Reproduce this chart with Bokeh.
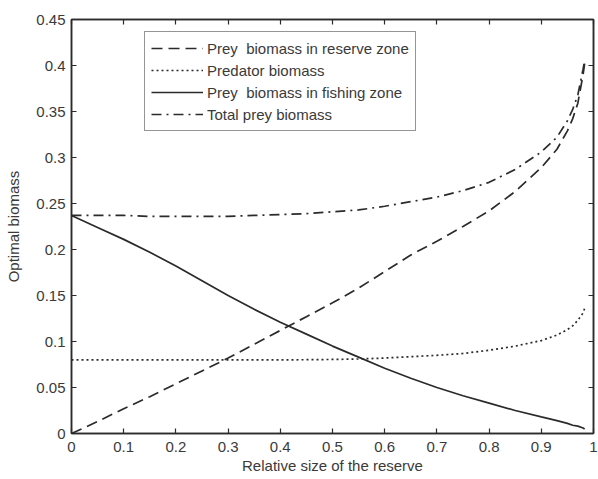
from bokeh.plotting import figure
from bokeh.models import (LinearAxis, FixedTicker, Range1d, Legend, LegendItem,
                          CustomLabelingPolicy)
from bokeh.embed import file_html
from bokeh.resources import INLINE

# Relative size of the reserve (shared abscissa for all curves)
reserve_size = [0.0, 0.05, 0.1, 0.15, 0.2, 0.25, 0.3, 0.35, 0.4, 0.45, 0.5,
                0.55, 0.6, 0.65, 0.7, 0.75, 0.8, 0.85, 0.9, 0.93, 0.95,
                0.96, 0.97, 0.98, 0.983]

prey_reserve = [0.0, 0.013, 0.027, 0.040, 0.054, 0.068, 0.082, 0.097, 0.112,
                0.127, 0.142, 0.158, 0.176, 0.194, 0.209, 0.225, 0.242, 0.263,
                0.289, 0.309, 0.329, 0.342, 0.359, 0.390, 0.402]

predator = [0.080, 0.080, 0.080, 0.080, 0.080, 0.080, 0.080, 0.080, 0.080,
            0.0802, 0.0805, 0.081, 0.082, 0.0835, 0.085, 0.087, 0.0905, 0.095,
            0.101, 0.107, 0.113, 0.117, 0.123, 0.131, 0.136]

prey_fishing = [0.237, 0.224, 0.211, 0.197, 0.182, 0.166, 0.150, 0.135, 0.121,
                0.108, 0.095, 0.083, 0.071, 0.060, 0.050, 0.041, 0.033, 0.025,
                0.018, 0.014, 0.011, 0.009, 0.008, 0.006, 0.005]

total_prey = [0.237, 0.237, 0.237, 0.236, 0.236, 0.236, 0.236, 0.237, 0.238,
              0.239, 0.241, 0.243, 0.247, 0.252, 0.257, 0.264, 0.273, 0.287,
              0.306, 0.322, 0.340, 0.352, 0.368, 0.396, 0.405]

x_ticks = [0, 0.1, 0.2, 0.3, 0.4, 0.5, 0.6, 0.7, 0.8, 0.9, 1]
x_tick_labels = ["0", "0.1", "0.2", "0.3", "0.4", "0.5", "0.6", "0.7", "0.8", "0.9", "1"]
y_ticks = [0, 0.05, 0.1, 0.15, 0.2, 0.25, 0.3, 0.35, 0.4, 0.45]
y_tick_labels = ["0", "0.05", "0.1", "0.15", "0.2", "0.25", "0.3", "0.35", "0.4", "0.45"]

FONT = "Liberation Sans"
FONT_SIZE = "15px"
INK = "#2b2b2b"
TEXT = "#3a3a3a"

p = figure(width=598, height=479, output_backend="svg", toolbar_location=None,
           x_range=Range1d(0, 1), y_range=Range1d(0, 0.45),
           min_border_left=71, min_border_right=1, min_border_top=19,
           min_border_bottom=46, background_fill_color="white",
           border_fill_color="white")
p.grid.visible = False
p.outline_line_color = INK
p.outline_line_width = 1.5

# main axes: inward ticks, no minor ticks
for ax, ticks, labels in ((p.xaxis[0], x_ticks, x_tick_labels),
                          (p.yaxis[0], y_ticks, y_tick_labels)):
    ax.ticker = FixedTicker(ticks=ticks)
    ax.major_label_overrides = {t: l for t, l in zip(ticks, labels)}
    ax.major_tick_in = 5
    ax.major_tick_out = 0
    ax.minor_tick_line_color = None
    ax.axis_line_color = INK
    ax.axis_line_width = 1.5
    ax.major_tick_line_color = INK
    ax.major_tick_line_width = 1.2
    ax.major_label_text_font = FONT
    ax.major_label_text_font_size = FONT_SIZE
    ax.major_label_text_color = TEXT
    ax.axis_label_text_font = FONT
    ax.axis_label_text_font_size = FONT_SIZE
    ax.axis_label_text_font_style = "normal"
    ax.axis_label_text_color = TEXT

p.xaxis.axis_label = "Relative size of the reserve"
p.xaxis.major_label_standoff = 8
p.xaxis.axis_label_standoff = 2
p.yaxis.axis_label = "Optimal biomass"
p.yaxis.major_label_standoff = 6
p.yaxis.axis_label_standoff = 11

# box axes on top and right carry only ticks; their labels are filtered out
hide_all = CustomLabelingPolicy(code="""
    for (const i of indices) indices.unset(i)
    return indices
""")
for loc, ticks in (("above", x_ticks), ("right", y_ticks)):
    ax = LinearAxis(ticker=FixedTicker(ticks=ticks), major_label_policy=hide_all)
    ax.major_label_text_font_size = "1px"
    ax.major_label_standoff = 0
    ax.major_tick_in = 5
    ax.major_tick_out = 0
    ax.minor_tick_line_color = None
    ax.axis_line_color = INK
    ax.axis_line_width = 1.5
    ax.major_tick_line_color = INK
    ax.major_tick_line_width = 1.2
    p.add_layout(ax, loc)

lw = 1.7
r_reserve = p.line(reserve_size, prey_reserve, line_color=INK, line_width=lw,
                   line_dash="11 6")
r_pred = p.line(reserve_size, predator, line_color=INK, line_width=lw,
                line_dash="2 3")
r_fish = p.line(reserve_size, prey_fishing, line_color=INK, line_width=lw)
r_total = p.line(reserve_size, total_prey, line_color=INK, line_width=lw,
                 line_dash="10 5 2 5")

legend = Legend(items=[
    LegendItem(label="Prey  biomass in reserve zone", renderers=[r_reserve]),
    LegendItem(label="Predator biomass", renderers=[r_pred]),
    LegendItem(label="Prey  biomass in fishing zone", renderers=[r_fish]),
    LegendItem(label="Total prey biomass", renderers=[r_total]),
], location=(73, 302))
legend.label_text_font = FONT
legend.label_text_font_size = FONT_SIZE
legend.label_text_color = TEXT
legend.glyph_width = 52
legend.glyph_height = 20
legend.label_height = 20
legend.label_standoff = 4
legend.spacing = 2
legend.padding = 6
legend.margin = 0
legend.border_line_color = INK
legend.border_line_width = 1.5
legend.background_fill_alpha = 1
p.add_layout(legend, "center")

open("out.html", "w").write(file_html(p, INLINE))
